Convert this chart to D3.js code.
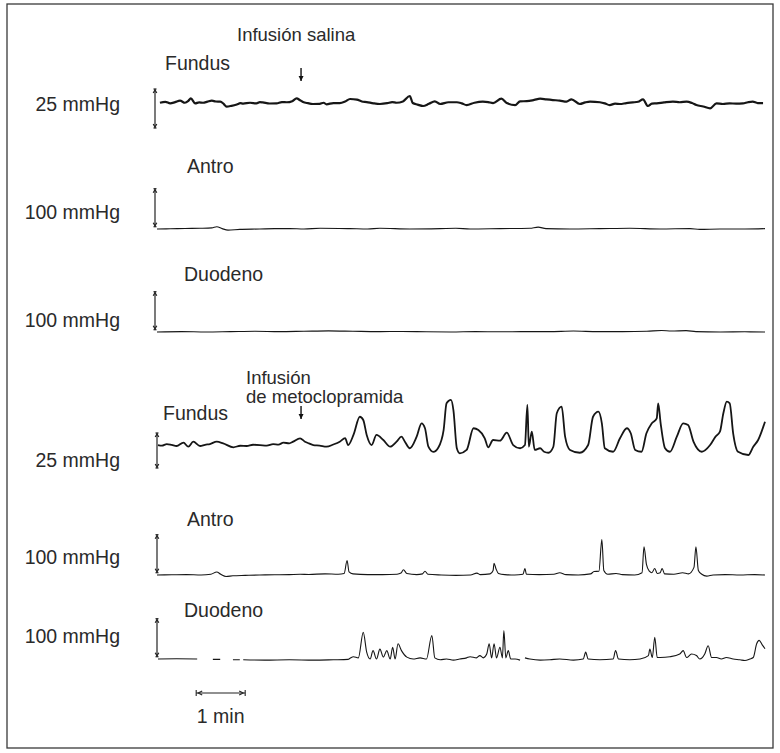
<!DOCTYPE html>
<html>
<head>
<meta charset="utf-8">
<script src="https://cdn.jsdelivr.net/npm/d3@7"></script>
<style>
  body { margin: 0; background: #fff; }
  text { font-family: "Liberation Sans", Arial, sans-serif; fill: #2a2a2a; }
</style>
</head>
<body>
<div id="my_chart"></div>
<script>
// every reading is [minutes, mmHg]; null marks a gap in the pen trace
const fundusSaline = [[0.06,16.2],[0.17,16.8],[0.27,15.8],[0.37,16.6],[0.47,17.5],[0.57,16.2],[0.64,17.4],[0.69,19.0],[0.78,15.8],[0.86,16.4],
  [0.94,16.2],[1.03,16.9],[1.12,17.5],[1.20,17.0],[1.29,16.9],[1.36,15.5],[1.42,13.7],[1.52,14.2],[1.63,15.1],[1.70,15.9],[1.76,15.6],
  [1.90,16.2],[2.03,15.8],[2.10,16.6],[2.16,16.4],[2.30,15.7],[2.44,15.8],[2.55,16.6],[2.65,16.5],[2.76,17.2],[2.85,19.0],[2.92,17.8],
  [2.98,16.7],[3.08,15.9],[3.18,15.4],[3.32,15.5],[3.40,16.2],[3.46,15.2],[3.60,16.0],[3.73,16.0],[3.84,17.0],[3.94,18.6],[4.08,18.2],
  [4.18,17.0],[4.28,16.6],[4.42,15.8],[4.55,15.4],[4.70,15.9],[4.80,16.6],[4.89,16.2],[5.02,17.0],[5.16,20.5],[5.22,16.0],[5.32,15.0],
  [5.43,14.1],[5.55,15.5],[5.67,17.1],[5.78,15.4],[5.95,16.5],[6.12,16.5],[6.22,15.8],[6.32,14.7],[6.48,16.2],[6.65,16.9],[6.76,16.6],
  [6.86,16.0],[7.03,18.8],[7.14,16.0],[7.31,14.7],[7.41,17.1],[7.55,17.2],[7.70,18.0],[7.82,18.8],[7.95,18.3],[8.08,17.9],[8.22,17.6],
  [8.36,16.9],[8.46,18.4],[8.63,15.4],[8.74,16.4],[8.84,16.9],[9.04,16.5],[9.14,15.8],[9.24,14.7],[9.35,15.6],[9.45,15.4],[9.58,16.0],
  [9.71,16.4],[9.82,16.8],[9.92,18.4],[10.02,14.1],[10.10,15.6],[10.20,15.8],[10.35,16.4],[10.53,16.9],[10.67,16.5],[10.81,16.9],
  [10.92,16.0],[11.01,14.7],[11.15,13.8],[11.29,12.6],[11.42,15.8],[11.55,15.4],[11.69,15.8],[11.82,15.6],[11.96,15.8],[12.06,16.5],
  [12.16,16.9],[12.26,16.0],[12.37,16.0]];

const antroSaline = [[0,0],[0.27,0.5],[0.57,1.5],[0.88,2],[1.12,3],[1.22,6],[1.33,1],[1.45,-3],[1.69,-1],[2.1,0],[2.4,1],[2.71,1],
  [3.0,0],[3.33,2],[3.94,1],[4.3,0],[4.55,2],[5.16,0],[5.78,1],[6.1,2],[6.39,0],[7.0,1],[7.61,2],[7.78,5],[7.94,1],[8.43,0],[9.04,1],
  [9.65,2],[10.27,0],[10.88,1],[11.08,-1],[11.49,0],[12.0,0],[12.41,1]];

const duodenoSaline = [[0,0],[0.5,1],[1.0,0],[1.5,1],[2.0,2],[2.5,1],[3.0,2],[3.5,3],[4.0,2],[4.5,1],[5.0,1.5],[5.5,0.5],[6.0,0],
  [6.5,1],[7.0,0.5],[7.5,1],[8.0,1],[8.5,2.5],[9.0,1],[9.5,1],[10.0,2],[10.3,4],[10.5,2.5],[10.8,3.5],[11.0,1],[11.5,0],[12.0,0.5],[12.41,0]];

const fundusMetoclopramide = [[0.02,16.4],[0.10,16.0],[0.20,17.1],[0.30,16.5],[0.40,15.7],[0.54,18.1],[0.64,15.2],[0.74,18.8],
  [0.88,15.7],[0.98,16.6],[1.08,17.1],[1.22,18.8],[1.35,17.6],[1.56,14.8],[1.70,15.9],[1.83,15.7],[1.96,16.6],[2.10,16.4],[2.24,16.0],
  [2.37,17.1],[2.48,16.7],[2.58,18.1],[2.70,17.6],[2.78,18.8],[2.92,21.2],[3.02,18.8],[3.10,17.6],[3.19,16.4],[3.32,16.0],[3.46,15.2],
  [3.60,16.8],[3.73,18.8],[3.84,21.4],[3.90,16.4],[4.01,23.6],[4.14,36.6],[4.21,34.3],[4.28,23.6],[4.38,16.4],[4.48,23.6],[4.62,20],
  [4.76,15.2],[4.89,18.8],[4.99,22.4],[5.06,18.8],[5.16,14.1],[5.30,22.4],[5.40,31.9],[5.47,28.4],[5.54,15.2],[5.64,11.5],[5.74,14.5],
  [5.85,27.1],[5.91,46.2],[6.00,48.6],[6.05,41.4],[6.12,14.1],[6.18,10.5],[6.32,12.9],[6.46,28.4],[6.56,27.1],[6.69,21.2],[6.76,14.8],
  [6.86,20],[7.00,19.5],[7.14,25.2],[7.27,16.4],[7.41,14.1],[7.51,16.4],[7.56,45],[7.59,15.2],[7.65,25.9],[7.71,12.9],[7.82,14.1],
  [7.90,11.6],[7.99,10.9],[8.09,15.2],[8.16,39.1],[8.26,43.8],[8.33,22.4],[8.43,12.9],[8.63,10.9],[8.80,16.4],[8.90,36.6],[9.01,40.2],
  [9.08,31.9],[9.14,14.1],[9.31,11.6],[9.45,21.2],[9.59,28.4],[9.67,24.8],[9.76,12.9],[9.89,11.6],[9.99,24.8],[10.10,31.9],[10.20,35.5],
  [10.23,46.2],[10.28,31.9],[10.37,14.1],[10.47,11.6],[10.61,22.4],[10.74,31.9],[10.84,30.7],[10.95,18.8],[11.12,11.6],[11.29,16.4],
  [11.40,22.4],[11.49,25.9],[11.56,39.1],[11.63,47.4],[11.69,46.2],[11.76,24.8],[11.86,11.6],[12.07,9.3],[12.17,15.2],[12.27,20],[12.41,33.1]];

const antroMetoclopramide = [[0,0],[0.3,0.5],[0.6,1],[0.9,0],[1.1,2],[1.22,8],[1.3,2],[1.41,-4],[1.55,-2],[1.8,-1],[2.1,0],[2.4,0.5],
  [2.7,1],[2.92,2],[3.1,1.5],[3.43,3],[3.7,2],[3.82,4],[3.88,38],[3.92,8],[4.0,3],[4.3,1],[4.6,1],[4.9,2],[4.98,5],[5.03,14],[5.1,4],
  [5.3,1],[5.42,3],[5.47,10],[5.53,2],[5.8,0],[6.1,-1],[6.4,0],[6.53,5],[6.6,1],[6.8,3],[6.86,12],[6.88,31],[6.92,16],[6.97,4],[7.1,1],
  [7.3,0],[7.47,2],[7.51,17],[7.54,2],[7.8,1],[8.1,2],[8.22,6],[8.35,1],[8.6,0],[8.85,3],[8.92,9],[9.02,10],[9.08,93],[9.12,12],[9.2,2],
  [9.37,4],[9.5,1],[9.75,0],[9.9,6],[9.94,74],[9.99,28],[10.05,10],[10.1,6],[10.16,17],[10.21,4],[10.27,6],[10.31,17],[10.36,3],
  [10.55,2],[10.73,6],[10.85,3],[10.96,20],[11.0,74],[11.05,12],[11.12,2],[11.22,-3],[11.35,0],[11.6,1],[11.9,0],[12.2,1],[12.41,0]];

const duodenoMetoclopramide = [[0.02,0],[0.4,0.5],[0.82,0],[0.83,null],[1.14,-1],[1.29,-1],[1.30,null],[1.55,-2],[1.69,-2],[1.70,null],
  [1.76,-2],[2.2,-3],[2.7,-2],[3.2,-3],[3.6,-2],[3.9,-1],[3.94,2],[4.01,6],[4.11,3],[4.21,70],[4.28,18],[4.35,0],[4.41,22],[4.48,0],
  [4.55,26],[4.62,5],[4.69,22],[4.76,0],[4.81,31],[4.86,0],[4.92,40],[4.99,22],[5.10,5],[5.23,0],[5.37,3],[5.50,0],[5.61,62],[5.67,3],
  [5.78,-2],[5.91,0],[6.05,-3],[6.18,0],[6.32,3],[6.39,6],[6.52,3],[6.59,9],[6.66,3],[6.73,13],[6.78,40],[6.83,3],[6.88,40],[6.93,3],
  [7.00,31],[7.05,3],[7.08,75],[7.12,3],[7.17,22],[7.22,0],[7.31,0],[7.41,-3],[7.45,null],[7.51,3],[7.61,0],[7.82,-3],[8.02,-2],[8.22,0],
  [8.50,-3],[8.70,0],[8.75,18],[8.80,0],[9.04,-2],[9.31,0],[9.36,22],[9.42,0],[9.65,-2],[9.86,0],[10.03,9],[10.06,26],[10.11,4],
  [10.16,57],[10.21,4],[10.27,4],[10.47,6],[10.67,13],[10.74,22],[10.81,4],[10.91,13],[11.01,9],[11.08,0],[11.18,13],[11.25,35],
  [11.32,4],[11.42,4],[11.52,0],[11.62,4],[11.76,0],[11.90,-2],[12.00,-4],[12.10,0],[12.17,4],[12.24,40],[12.29,49],[12.35,38],[12.41,27]];

const channelNames = ["Fundus", "Antro", "Duodeno", "Fundus", "Antro", "Duodeno"];
const fullScales = [25, 100, 100, 25, 100, 100];
const infusionLabels = [["Infusión salina"], ["Infusión", "de metoclopramida"]];
const infusionTime = 2.94;     // min, both arrows
const timeBar = [0.8, 1.8];    // 1 min calibration
const totalMinutes = 12.41;

const W = 780, H = 753;
const fontSize = "19.5px";

const svg = d3.select("#my_chart")
  .append("svg")
    .attr("width", W)
    .attr("height", H);

// frame
svg.append("rect")
  .attr("x", 7).attr("y", 4)
  .attr("width", 766).attr("height", 744)
  .attr("fill", "none")
  .attr("stroke", "#3a3a3a")
  .attr("stroke-width", 1.3);

let x = d3.scaleLinear()
  .domain([0, totalMinutes])
  .range([157, 765]);

// layout of each channel: y of 0 mmHg, pixel length of the calibration bar, where the bar starts
let panels = [
  {data: fundusSaline,          zeroY: 128, barPx: 39, bar0: 0, barX: 155, nameX: 165, nameY: 63,  unitY: 104, width: 2.2},
  {data: antroSaline,           zeroY: 229, barPx: 38, bar0: 6, barX: 155, nameX: 187, nameY: 166, unitY: 212, width: 1.1},
  {data: duodenoSaline,         zeroY: 332, barPx: 38, bar0: 6, barX: 155, nameX: 184, nameY: 274, unitY: 320, width: 1.1},
  {data: fundusMetoclopramide,  zeroY: 468, barPx: 35, bar0: 0, barX: 157, nameX: 163, nameY: 413, unitY: 460, width: 1.8},
  {data: antroMetoclopramide,   zeroY: 575, barPx: 38, bar0: 6, barX: 157, nameX: 187, nameY: 519, unitY: 557, width: 1.1},
  {data: duodenoMetoclopramide, zeroY: 659, barPx: 38, bar0: 6, barX: 157, nameX: 184, nameY: 610, unitY: 636, width: 1.1}
];

panels.forEach(function(p, i) {
  let y = d3.scaleLinear()
    .domain([0, fullScales[i]])
    .range([p.zeroY, p.zeroY - p.barPx]);

  let line = d3.line()
    .defined(d => d[1] !== null)
    .x(d => x(d[0]))
    .y(d => y(d[1]))
    .curve(d3.curveMonotoneX);

  svg.append("path")
    .datum(p.data)
    .attr("d", line)
    .attr("fill", "none")
    .attr("stroke", "#161616")
    .attr("stroke-width", p.width)
    .attr("stroke-linejoin", "round");

  // calibration bar
  let b0 = y(p.bar0), b1 = y(p.bar0 + fullScales[i]);
  let g = svg.append("g").attr("stroke", "#222").attr("stroke-width", 1.2);
  g.append("line").attr("x1", p.barX).attr("x2", p.barX).attr("y1", b1).attr("y2", b0);
  g.append("line").attr("x1", p.barX - 1.5).attr("x2", p.barX + 1.5).attr("y1", b1).attr("y2", b1);
  g.append("line").attr("x1", p.barX - 1.5).attr("x2", p.barX + 1.5).attr("y1", b0).attr("y2", b0);
  g.append("path")
    .attr("d", `M${p.barX - 1.8},${b1 + 4}L${p.barX},${b1 + 1}L${p.barX + 1.8},${b1 + 4}M${p.barX - 1.8},${b0 - 4}L${p.barX},${b0 - 1}L${p.barX + 1.8},${b0 - 4}`)
    .attr("fill", "none");

  svg.append("text")
    .attr("x", 120).attr("y", p.unitY)
    .attr("text-anchor", "end")
    .attr("dominant-baseline", "central")
    .style("font-size", fontSize)
    .text(fullScales[i] + " mmHg");

  svg.append("text")
    .attr("x", p.nameX).attr("y", p.nameY)
    .attr("dominant-baseline", "central")
    .style("font-size", fontSize)
    .text(channelNames[i]);
});

// infusion markers
let marks = [
  {labels: infusionLabels[0], x0: 237, y0: 34, a0: 68, a1: 81},
  {labels: infusionLabels[1], x0: 246, y0: 377, a0: 406, a1: 419}
];
marks.forEach(function(m) {
  m.labels.forEach(function(s, j) {
    svg.append("text")
      .attr("x", m.x0).attr("y", m.y0 + j * 19)
      .attr("dominant-baseline", "central")
      .style("font-size", "18.5px")
      .text(s);
  });
  let ax = x(infusionTime);
  svg.append("line")
    .attr("x1", ax).attr("x2", ax).attr("y1", m.a0).attr("y2", m.a1)
    .attr("stroke", "#111").attr("stroke-width", 1.4);
  svg.append("path")
    .attr("d", `M${ax - 2.5},${m.a1 - 5}L${ax},${m.a1}L${ax + 2.5},${m.a1 - 5}Z`)
    .attr("fill", "#111");
});

// 1 min calibration
let tb = svg.append("g").attr("stroke", "#222").attr("stroke-width", 1.1);
let tx0 = x(timeBar[0]), tx1 = x(timeBar[1]), ty = 693;
tb.append("line").attr("x1", tx0).attr("x2", tx1).attr("y1", ty).attr("y2", ty);
tb.append("line").attr("x1", tx0).attr("x2", tx0).attr("y1", ty - 3).attr("y2", ty + 3);
tb.append("line").attr("x1", tx1).attr("x2", tx1).attr("y1", ty - 3).attr("y2", ty + 3);
tb.append("path")
  .attr("d", `M${tx0 + 6},${ty - 2}L${tx0 + 2},${ty}L${tx0 + 6},${ty + 2}M${tx1 - 6},${ty - 2}L${tx1 - 2},${ty}L${tx1 - 6},${ty + 2}`)
  .attr("fill", "none");

svg.append("text")
  .attr("x", (tx0 + tx1) / 2).attr("y", 716)
  .attr("text-anchor", "middle")
  .attr("dominant-baseline", "central")
  .style("font-size", fontSize)
  .text((timeBar[1] - timeBar[0]) + " min");
</script>
</body>
</html>
